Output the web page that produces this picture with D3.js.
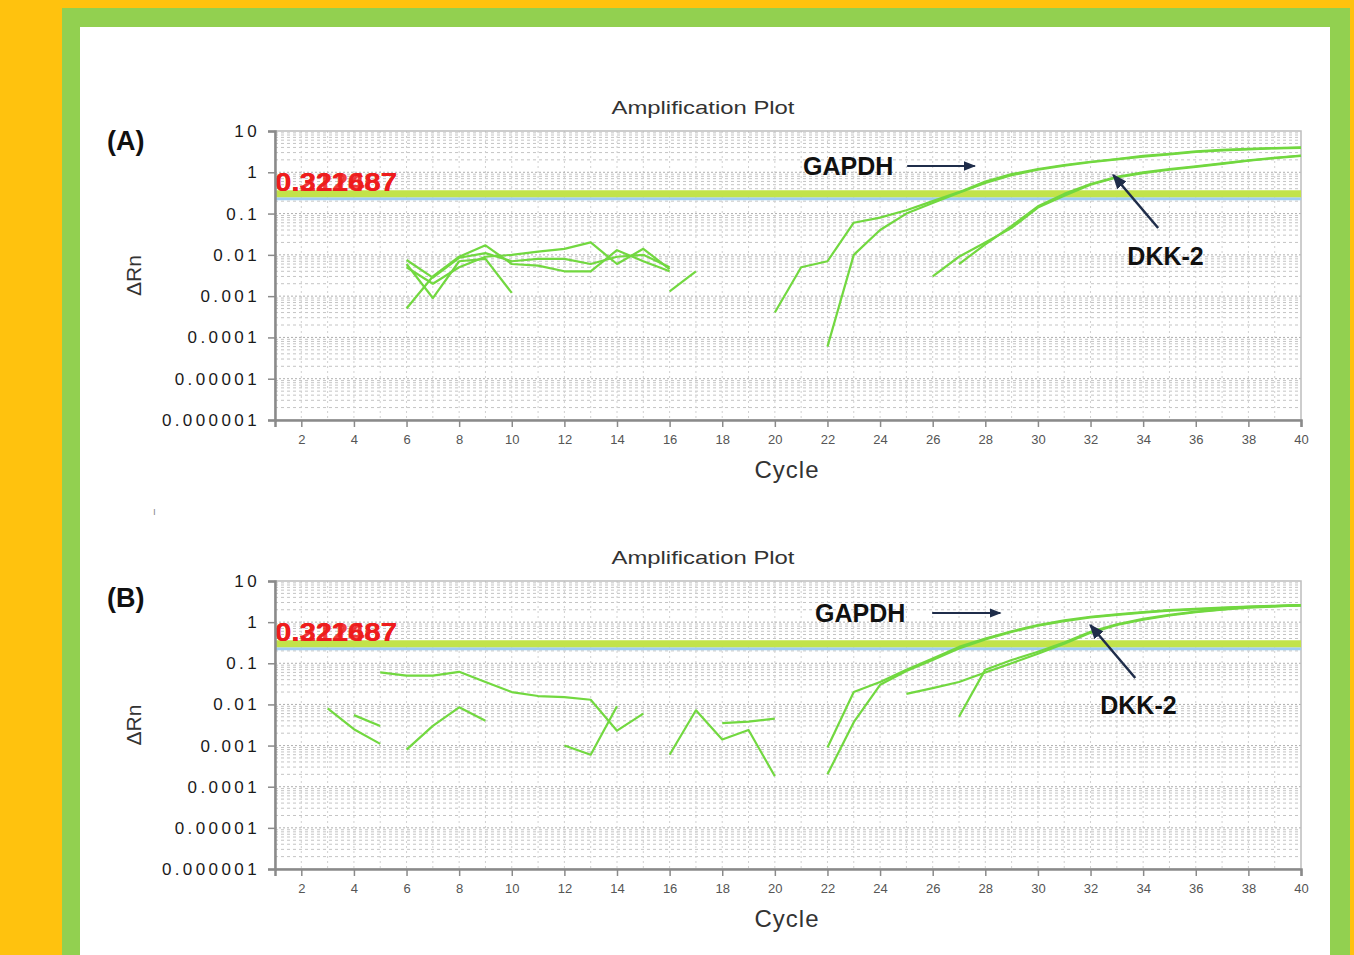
<!DOCTYPE html>
<html>
<head>
<meta charset="utf-8">
<script src="https://cdn.jsdelivr.net/npm/d3@7"></script>
<style>
  body { margin: 0; background: #ffc20e; }
  svg { display: block; }
</style>
</head>
<body>
<script>
// axis ticks
const xTicks = [2, 4, 6, 8, 10, 12, 14, 16, 18, 20, 22, 24, 26, 28, 30, 32, 34, 36, 38, 40];
const yTicks = [10, 1, 0.1, 0.01, 0.001, 0.0001, 0.00001, 0.000001];
const yTickLabels = ["10", "1", "0.1", "0.01", "0.001", "0.0001", "0.00001", "0.000001"];
const threshold = 0.3;
const thresholdLabels = ["0.322687", "0.211687", "0.321467"];

// panel A curves (start cycle + delta Rn per cycle)
const aNoise1 = { start: 6, dRn: [0.0075, 0.0028, 0.0085, 0.011, 0.007, 0.008, 0.008, 0.006, 0.009, 0.010, 0.005] };
const aNoise2 = { start: 6, dRn: [0.0005, 0.0030, 0.0090, 0.017, 0.0060, 0.0055, 0.0040, 0.0040, 0.0130, 0.0070, 0.0040] };
const aNoise3 = { start: 6, dRn: [0.006, 0.0009, 0.0070, 0.0080, 0.0012] };
const aNoise4 = { start: 6, dRn: [0.005, 0.002, 0.005, 0.009, 0.010, 0.012, 0.014, 0.020, 0.006, 0.014, 0.0045] };
const aNoise5 = { start: 16, dRn: [0.0013, 0.004] };
const aGapdh1 = { start: 20, dRn: [0.0004, 0.005, 0.007, 0.06, 0.08, 0.12, 0.2, 0.33, 0.6, 0.9, 1.2, 1.5, 1.8, 2.1, 2.5, 2.8, 3.2, 3.5, 3.7, 3.85, 4.0] };
const aGapdh2 = { start: 22, dRn: [0.00006, 0.01, 0.04, 0.1, 0.18, 0.32, 0.55, 0.85, 1.15, 1.45, 1.75, 2.05, 2.4, 2.7, 3.1, 3.4, 3.6, 3.8, 3.9] };
const aDkk1 = { start: 26, dRn: [0.003, 0.009, 0.02, 0.045, 0.14, 0.27, 0.5, 0.75, 0.95, 1.15, 1.35, 1.6, 1.9, 2.2, 2.5] };
const aDkk2 = { start: 27, dRn: [0.006, 0.018, 0.05, 0.15, 0.3, 0.52, 0.78, 1.0, 1.2, 1.4, 1.65, 1.95, 2.25, 2.55] };

// panel B curves
const bNoise1 = { start: 5, dRn: [0.06, 0.05, 0.05, 0.062, 0.035, 0.02, 0.016, 0.015, 0.013, 0.0023, 0.006] };
const bNoise2 = { start: 3, dRn: [0.008, 0.0025, 0.0011] };
const bNoise3 = { start: 4, dRn: [0.0055, 0.003] };
const bNoise4 = { start: 6, dRn: [0.0008, 0.003, 0.0085, 0.004] };
const bNoise5 = { start: 12, dRn: [0.001, 0.0006, 0.009] };
const bNoise6 = { start: 16, dRn: [0.0006, 0.0072, 0.0014, 0.0024, 0.00018] };
const bNoise7 = { start: 18, dRn: [0.0035, 0.0038, 0.0045] };
const bGapdh1 = { start: 22, dRn: [0.0009, 0.02, 0.035, 0.07, 0.13, 0.25, 0.4, 0.6, 0.85, 1.1, 1.35, 1.55, 1.75, 1.95, 2.1, 2.25, 2.4, 2.5, 2.6] };
const bGapdh2 = { start: 22, dRn: [0.0002, 0.0037, 0.03, 0.065, 0.12, 0.23, 0.38, 0.58, 0.82, 1.05, 1.3, 1.5, 1.7, 1.9, 2.05, 2.2, 2.35, 2.45, 2.55] };
const bDkk1 = { start: 25, dRn: [0.018, 0.025, 0.035, 0.06, 0.1, 0.17, 0.3, 0.55, 0.85, 1.15, 1.45, 1.75, 2.0, 2.25, 2.4, 2.55] };
const bDkk2 = { start: 27, dRn: [0.005, 0.07, 0.12, 0.19, 0.32, 0.58, 0.88, 1.2, 1.5, 1.8, 2.05, 2.3, 2.45, 2.6] };

const width = 1354, height = 955;

const svg = d3.create("svg")
    .attr("width", width)
    .attr("height", height)
    .attr("viewBox", [0, 0, width, height]);

document.body.appendChild(svg.node());

// frame
svg.append("rect").attr("width", width).attr("height", height).attr("fill", "#ffc20e");
svg.append("rect").attr("x", 62).attr("y", 8).attr("width", 1288).attr("height", height).attr("fill", "#92d050");
svg.append("rect").attr("x", 80).attr("y", 27).attr("width", 1250).attr("height", height).attr("fill", "#ffffff");

const panels = [
    { tag: "(A)", top: 131, bottom: 420, tagY: 150, series: [aNoise1, aNoise2, aNoise3, aNoise4, aNoise5, aGapdh1, aGapdh2, aDkk1, aDkk2],
      gapdh: { x: 21.07, v: 1.42, a0: 25.03, a1: 27.6 },
      dkk: { x: 33.4, v: 0.0094, from: [34.57, 0.0448], to: [32.86, 0.86] } },
    { tag: "(B)", top: 581, bottom: 869, tagY: 607, series: [bNoise1, bNoise2, bNoise3, bNoise4, bNoise5, bNoise6, bNoise7, bGapdh1, bGapdh2, bDkk1, bDkk2],
      gapdh: { x: 21.53, v: 1.67, a0: 25.98, a1: 28.57 },
      dkk: { x: 32.37, v: 0.0097, from: [33.7, 0.0438], to: [31.99, 0.85] } }
];

svg.append("defs").append("marker")
    .attr("id", "arrow")
    .attr("viewBox", "0 0 10 10")
    .attr("refX", 9).attr("refY", 5)
    .attr("markerWidth", 6).attr("markerHeight", 6)
    .attr("orient", "auto")
  .append("path")
    .attr("d", "M0,1 L10,5 L0,9 z")
    .attr("fill", "#1f2d4a");

panels.forEach(p => {
    const x = d3.scaleLinear().domain([1, 40]).range([275, 1301]);
    const y = d3.scaleLog().domain([1e-6, 10]).range([p.bottom, p.top]);
    const g = svg.append("g");

    // grid
    const minor = [];
    for (let e = -6; e < 1; e++) {
        for (let m = 2; m <= 9; m++) minor.push(m * Math.pow(10, e));
    }
    g.append("g").selectAll("line").data(minor).join("line")
        .attr("x1", x(1)).attr("x2", x(40))
        .attr("y1", d => y(d)).attr("y2", d => y(d))
        .attr("stroke", "#c4c4c4").attr("stroke-width", 1)
        .attr("stroke-dasharray", "3,3");
    g.append("g").selectAll("line").data(d3.range(2, 40)).join("line")
        .attr("x1", d => x(d)).attr("x2", d => x(d))
        .attr("y1", p.top).attr("y2", p.bottom)
        .attr("stroke", "#d0d0d0").attr("stroke-width", 1)
        .attr("stroke-dasharray", "2,3");
    g.append("g").selectAll("line").data(yTicks.slice(1, 7)).join("line")
        .attr("x1", x(1)).attr("x2", x(40))
        .attr("y1", d => y(d)).attr("y2", d => y(d))
        .attr("stroke", "#b0b0b0").attr("stroke-width", 1)
        .attr("stroke-dasharray", "2,2");

    // frame of the plot area
    g.append("rect")
        .attr("x", x(1)).attr("y", p.top)
        .attr("width", x(40) - x(1)).attr("height", p.bottom - p.top)
        .attr("fill", "none").attr("stroke", "#bdbdbd").attr("stroke-width", 1.5);

    // threshold band
    g.append("line")
        .attr("x1", x(1)).attr("x2", x(40))
        .attr("y1", y(threshold) + 5).attr("y2", y(threshold) + 5)
        .attr("stroke", "#9fcdf0").attr("stroke-width", 3);
    g.append("line")
        .attr("x1", x(1)).attr("x2", x(40))
        .attr("y1", y(threshold)).attr("y2", y(threshold))
        .attr("stroke", "#c2e34a").attr("stroke-width", 7);

    // curves
    const line = d3.line().x(d => x(d[0])).y(d => y(d[1]));
    g.append("g").selectAll("path").data(p.series).join("path")
        .attr("d", s => line(s.dRn.map((v, i) => [s.start + i, v])))
        .attr("fill", "none")
        .attr("stroke", "#72d840")
        .attr("stroke-width", 2.2)
        .attr("stroke-linejoin", "round");

    // threshold value label (overlapping values)
    g.append("g").selectAll("text").data(thresholdLabels).join("text")
        .attr("x", x(1)).attr("y", y(threshold) - 3)
        .attr("textLength", 122).attr("lengthAdjust", "spacingAndGlyphs")
        .attr("font-family", "Liberation Sans, Arial, sans-serif")
        .attr("font-weight", "bold").attr("font-size", 25)
        .attr("fill", "#ee1c1c").attr("opacity", 0.85)
        .text(d => d);

    // axes
    const yAxis = g.append("g")
        .attr("transform", `translate(${x(1)},0)`)
        .call(d3.axisLeft(y).tickValues(yTicks).tickFormat((d, i) => yTickLabels[i]).tickSize(7).tickPadding(8));
    yAxis.select(".domain").attr("stroke", "#8a8a8a").attr("stroke-width", 2.5);
    yAxis.selectAll(".tick line").attr("stroke", "#8a8a8a").attr("stroke-width", 1.5);
    yAxis.selectAll("text")
        .attr("font-family", "Liberation Sans, Arial, sans-serif")
        .attr("font-size", 17).attr("letter-spacing", 3.4)
        .attr("fill", "#1a1a1a");

    const xAxis = g.append("g")
        .attr("transform", `translate(0,${p.bottom})`)
        .call(d3.axisBottom(x).tickValues(xTicks).tickSize(7).tickPadding(8));
    xAxis.select(".domain").attr("stroke", "#8a8a8a").attr("stroke-width", 2.5);
    xAxis.selectAll(".tick line").attr("stroke", "#8a8a8a").attr("stroke-width", 1.5);
    xAxis.selectAll("text")
        .attr("font-family", "Liberation Sans, Arial, sans-serif")
        .attr("font-size", 13).attr("fill", "#555");

    // titles
    g.append("text")
        .attr("x", 703).attr("y", p.top - 17)
        .attr("text-anchor", "middle")
        .attr("textLength", 183).attr("lengthAdjust", "spacingAndGlyphs")
        .attr("font-family", "Liberation Sans, Arial, sans-serif")
        .attr("font-size", 19).attr("fill", "#333")
        .text("Amplification Plot");
    g.append("text")
        .attr("x", 107).attr("y", p.tagY)
        .attr("font-family", "Liberation Sans, Arial, sans-serif")
        .attr("font-weight", "bold").attr("font-size", 27).attr("fill", "#111")
        .text(p.tag);
    g.append("text")
        .attr("transform", `translate(141,${(p.top + p.bottom) / 2}) rotate(-90)`)
        .attr("text-anchor", "middle")
        .attr("font-family", "Liberation Sans, Arial, sans-serif")
        .attr("font-size", 21).attr("fill", "#333")
        .text("ΔRn");
    g.append("text")
        .attr("x", 787).attr("y", p.bottom + 58)
        .attr("text-anchor", "middle")
        .attr("font-family", "Liberation Sans, Arial, sans-serif")
        .attr("font-size", 24).attr("letter-spacing", 1).attr("fill", "#333")
        .text("Cycle");

    // annotations
    g.append("text")
        .attr("x", x(p.gapdh.x)).attr("y", y(p.gapdh.v) + 9)
        .attr("font-family", "Liberation Sans, Arial, sans-serif")
        .attr("font-weight", "bold").attr("font-size", 25).attr("fill", "#111")
        .text("GAPDH");
    g.append("line")
        .attr("x1", x(p.gapdh.a0)).attr("x2", x(p.gapdh.a1))
        .attr("y1", y(p.gapdh.v)).attr("y2", y(p.gapdh.v))
        .attr("stroke", "#1f2d4a").attr("stroke-width", 2)
        .attr("marker-end", "url(#arrow)");
    g.append("text")
        .attr("x", x(p.dkk.x)).attr("y", y(p.dkk.v) + 9)
        .attr("font-family", "Liberation Sans, Arial, sans-serif")
        .attr("font-weight", "bold").attr("font-size", 25).attr("fill", "#111")
        .text("DKK-2");
    g.append("line")
        .attr("x1", x(p.dkk.from[0])).attr("y1", y(p.dkk.from[1]))
        .attr("x2", x(p.dkk.to[0])).attr("y2", y(p.dkk.to[1]))
        .attr("stroke", "#1f2d4a").attr("stroke-width", 2.5)
        .attr("marker-end", "url(#arrow)");
});

// stray mark between panels
svg.append("text")
    .attr("x", 153).attr("y", 515)
    .attr("font-family", "Liberation Sans, Arial, sans-serif")
    .attr("font-size", 10).attr("fill", "#888")
    .text("ı");
</script>
</body>
</html>
